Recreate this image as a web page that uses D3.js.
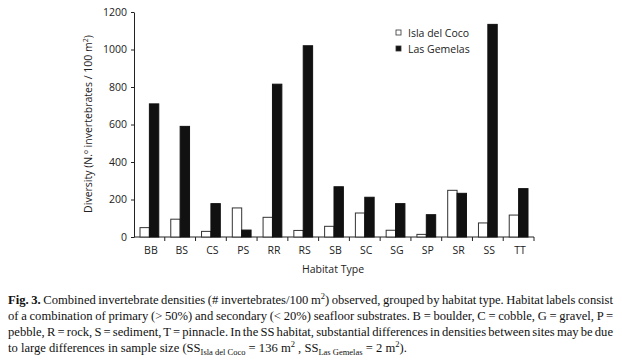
<!DOCTYPE html>
<html>
<head>
<meta charset="utf-8" />
<title>Fig. 3 Habitat densities</title>
<script src="https://cdnjs.cloudflare.com/ajax/libs/d3/7.8.5/d3.min.js"></script>
<style>
  body { margin: 0; background: #fff; }
  svg { display: block; }
  .sans { font-family: "Open Sans", "DejaVu Sans", sans-serif; fill: #222; }
  .cap { font-family: "Liberation Serif", "Times New Roman", serif; font-size: 12.6px; fill: #111; }
</style>
</head>
<body>
<svg width="622" height="361"></svg>
<script>
// data
const habitats = ['BB', 'BS', 'CS', 'PS', 'RR', 'RS', 'SB', 'SC', 'SG', 'SP', 'SR', 'SS', 'TT']
const islaDelCoco = [50, 95, 30, 155, 105, 35, 57, 128, 36, 14, 249, 75, 117]
const lasGemelas = [710, 590, 178, 37, 815, 1020, 268, 212, 178, 119, 233, 1134, 258]
const yTicks = [0, 200, 400, 600, 800, 1000, 1200]
const seriesNames = ['Isla del Coco', 'Las Gemelas']

const svg = d3.select('svg')

let x = d3.scaleBand().domain(habitats).range([134, 534])
let y = d3.scaleLinear().domain([0, 1200]).range([237, 12])
let bw = x.bandwidth()

// y axis
let yAxis = d3.axisLeft(y).tickValues(yTicks).tickFormat(d3.format('d'))
  .tickSize(3).tickPadding(4).tickSizeOuter(0)
let gy = svg.append('g').attr('transform', 'translate(134,0)').call(yAxis)
gy.select('.domain').attr('stroke', '#222')
gy.selectAll('line').attr('stroke', '#222')
gy.selectAll('text').attr('class', 'sans').style('font-size', '10.5px').attr('font-family', null)

// x axis line, ticks between categories
svg.append('line').attr('x1', 134).attr('x2', 534).attr('y1', 237).attr('y2', 237)
  .attr('stroke', '#222')
svg.selectAll('.xtick').data(habitats.slice(1).concat(['end']))
  .enter().append('line')
  .attr('x1', (d, i) => 134 + (i + 1) * bw).attr('x2', (d, i) => 134 + (i + 1) * bw)
  .attr('y1', 237).attr('y2', 241).attr('stroke', '#222')

svg.selectAll('.xlab').data(habitats).enter().append('text')
  .attr('class', 'sans')
  .attr('x', d => x(d) + bw / 2 + 1.5)
  .attr('y', 254)
  .attr('text-anchor', 'middle')
  .style('font-size', '10.5px')
  .text(d => d)

// bars
let off = bw * 0.195, barW = bw * 0.305
svg.selectAll('.b1').data(habitats).enter().append('rect')
  .attr('x', d => x(d) + off)
  .attr('y', (d, i) => y(islaDelCoco[i]))
  .attr('width', barW)
  .attr('height', (d, i) => 237 - y(islaDelCoco[i]))
  .style('fill', '#fff').style('stroke', '#333').style('stroke-width', 1)
svg.selectAll('.b2').data(habitats).enter().append('rect')
  .attr('x', d => x(d) + off + barW)
  .attr('y', (d, i) => y(lasGemelas[i]))
  .attr('width', barW)
  .attr('height', (d, i) => 237 - y(lasGemelas[i]))
  .style('fill', '#111').style('stroke', '#111').style('stroke-width', 1)

// axis titles
svg.append('text').attr('class', 'sans')
  .attr('transform', 'translate(92,124) rotate(-90)')
  .attr('text-anchor', 'middle').style('font-size', '10.5px')
  .html('Diversity (N.º invertebrates / 100 m<tspan dy="-4" style="font-size:7px">2</tspan><tspan dy="4">)</tspan>')
svg.append('text').attr('class', 'sans')
  .attr('x', 333).attr('y', 273).attr('text-anchor', 'middle').style('font-size', '10.5px')
  .text('Habitat Type')

// legend
let leg = svg.append('g').attr('transform', 'translate(396,30)')
seriesNames.forEach(function(n, i) {
  leg.append('rect').attr('x', 0).attr('y', i * 16).attr('width', 5).attr('height', 5)
    .style('fill', i ? '#111' : '#fff').style('stroke', '#333').style('stroke-width', 0.8)
  leg.append('text').attr('class', 'sans').attr('x', 12).attr('y', i * 16 + 6.5)
    .style('font-size', '10.5px').text(n)
})

// caption
const capLines = [
  '<tspan font-weight="bold">Fig. 3.</tspan> Combined invertebrate densities (# invertebrates/100 m<tspan dy="-5" font-size="8.5">2</tspan><tspan dy="5">) observed, grouped by habitat type. Habitat labels consist</tspan>',
  'of a combination of primary (&gt; 50%) and secondary (&lt; 20%) seafloor substrates. B = boulder, C = cobble, G = gravel, P =',
  'pebble, R = rock, S = sediment, T = pinnacle. In the SS habitat, substantial differences in densities between sites may be due',
  'to large differences in sample size (SS<tspan dy="3" font-size="8.5">Isla del Coco</tspan><tspan dy="-3"> = 136 m</tspan><tspan dy="-5" font-size="8.5">2</tspan><tspan dy="5"> , SS</tspan><tspan dy="3" font-size="8.5">Las Gemelas</tspan><tspan dy="-3"> = 2 m</tspan><tspan dy="-5" font-size="8.5">2</tspan><tspan dy="5">).</tspan>'
]
capLines.forEach(function(l, i) {
  let t = svg.append('text').attr('class', 'cap').attr('x', 8).attr('y', 304 + i * 16).html(l)
  if (i < 3) {
    let w = t.node().getComputedTextLength()
    let words = t.text().split(' ').length - 1
    t.attr('word-spacing', (605 - w) / words)
  }
})
</script>
</body>
</html>
